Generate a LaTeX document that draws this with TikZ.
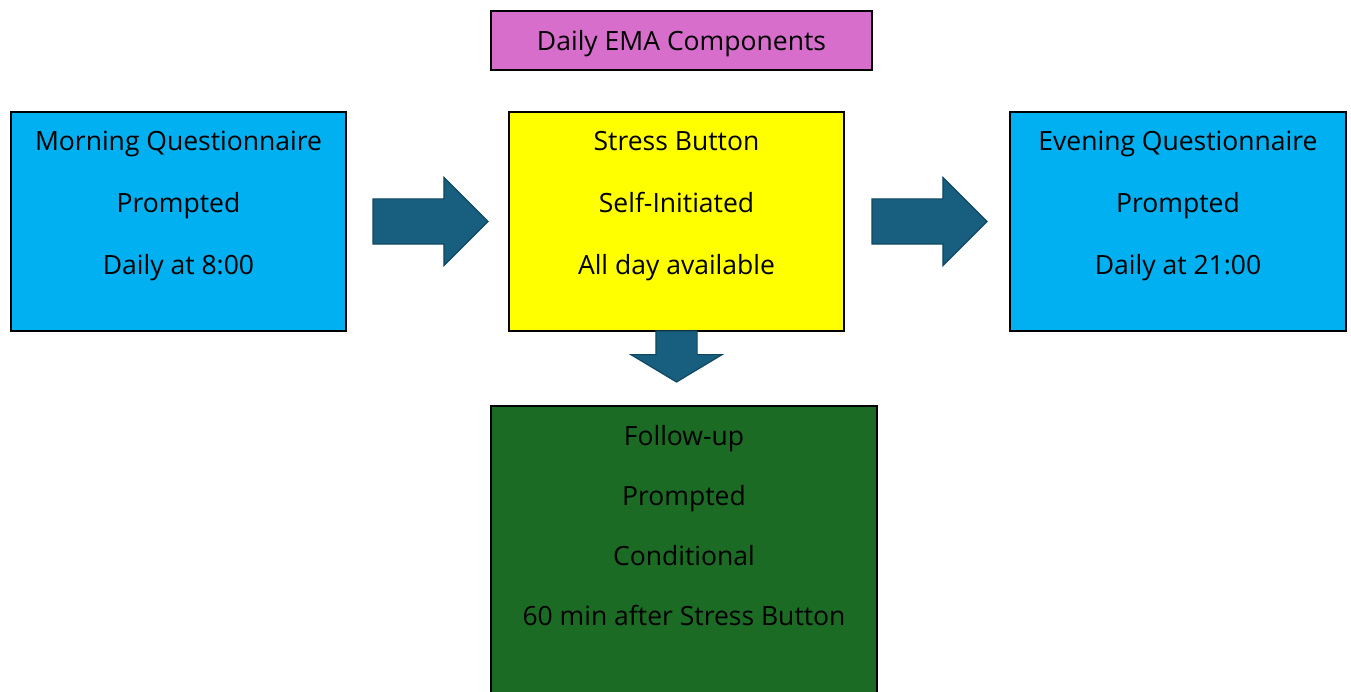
\documentclass[tikz,border=0pt]{standalone}
\usepackage{fontspec}
\setmainfont{Open Sans}
\usetikzlibrary{shapes.arrows, positioning, calc}

\definecolor{emapink}{RGB}{215,110,204}
\definecolor{emablue}{RGB}{0,176,240}
\definecolor{emayellow}{RGB}{255,255,0}
\definecolor{emagreen}{RGB}{27,107,36}
\definecolor{arrowfill}{RGB}{24,94,126}
\definecolor{arrowline}{RGB}{16,72,98}

\begin{document}
\begin{tikzpicture}[
    x=1pt, y=-1pt,
    font=\fontsize{26.5}{60}\selectfont,
    box/.style={draw=black, line width=1.5pt, inner sep=0pt, outer sep=0pt},
    boxtext/.style={align=center, inner sep=0pt, anchor=north},
    bigarrow/.style={single arrow, draw=arrowline, fill=arrowfill, line width=1.2pt,
        inner xsep=0pt, inner ysep=22pt, outer sep=0pt, single arrow head extend=21.5pt,
        minimum height=115pt, anchor=tail}
]
    \useasboundingbox (0,0) rectangle (1351,692);
    \clip (0,0) rectangle (1351,692);

    % Nodes
    \node[box, fill=emapink, minimum width=381pt, minimum height=59pt] (title) at (681.5,40.5) {};
    \node[box, fill=emablue, minimum width=335pt, minimum height=219pt] (morning) at (178.5,221.5) {};
    \node[box, fill=emayellow, minimum width=335pt, minimum height=219pt] (stress) at (676.5,221.5) {};
    \node[box, fill=emablue, minimum width=336pt, minimum height=219pt] (evening) at (1178,221.5) {};
    \node[box, fill=emagreen, minimum width=386pt, minimum height=300pt] (followup) at (684,556) {};

    % Texts
    \node[boxtext, anchor=center] (title-txt) at ([yshift=-3pt]title.center) {Daily EMA Components};
    \node[boxtext, font=\fontsize{26.5}{62}\selectfont] (morning-txt) at ([yshift=-19pt]morning.north)
        {Morning Questionnaire\\Prompted\\Daily at 8:00};
    \node[boxtext, font=\fontsize{26.5}{62}\selectfont] (stress-txt) at ([yshift=-19pt]stress.north)
        {Stress Button\\Self-Initiated\\All day available};
    \node[boxtext, font=\fontsize{26.5}{62}\selectfont] (evening-txt) at ([yshift=-19pt]evening.north)
        {Evening Questionnaire\\Prompted\\Daily at 21:00};
    \node[boxtext] (followup-txt) at ([yshift=-19.5pt]followup.north)
        {Follow-up\\Prompted\\Conditional\\60 min after Stress Button};

    % Block arrows
    \node[bigarrow] (arrow1) at ([xshift=27pt]morning.east) {};
    \node[bigarrow] (arrow2) at ([xshift=28pt]stress.east) {};
    \node[bigarrow, rotate=-90, inner ysep=20pt, minimum height=51pt,
        single arrow head extend=25pt, single arrow tip angle=118] (arrow3)
        at (stress.south) {};

\end{tikzpicture}
\end{document}
